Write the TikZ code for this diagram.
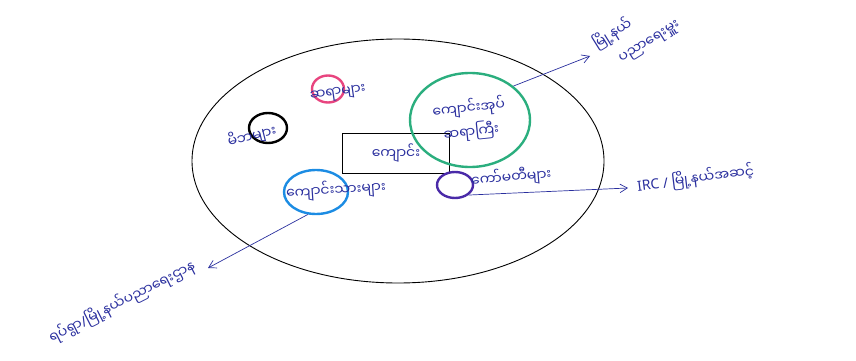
\documentclass[tikz,border=0pt]{standalone}
\usepackage{fontspec}
\setmainfont{Noto Sans}
\newfontfamily\mmfont[Script=Myanmar]{Noto Sans Myanmar UI}
\newfontfamily\latinfont{Noto Sans}
\usepackage{tikz}
\usetikzlibrary{positioning,arrows.meta,shapes.geometric}
\definecolor{inkblue}{HTML}{2A2F9E}
\definecolor{pinkring}{HTML}{E8457F}
\definecolor{greenring}{HTML}{2BAE7E}
\definecolor{bluering}{HTML}{1C8CE3}
\definecolor{purplering}{HTML}{4A2AA8}
\tikzset{
  ring/.style  = {ellipse, draw=#1, line width=2.4pt, inner sep=0pt},
  ink/.style   = {text=inkblue, font=\mmfont\fontsize{14}{22}\selectfont, inner sep=1pt},
  link/.style  = {-{Straight Barb[length=2.6mm,width=3mm]}, draw=inkblue, line width=0.7pt},
}

\begin{document}
\begin{tikzpicture}[x=1pt, y=-1pt]
  \useasboundingbox (0,0) rectangle (856,361);
  % whole school community
  \node[ellipse, draw, line width=0.9pt, minimum width=412pt, minimum height=244pt] (whole) at (398,161) {};

  % centre box
  \node[draw, line width=1pt, minimum width=107pt, minimum height=40pt, ink] (school) at (396,153) {ကျောင်း};

  % groups inside
  \node[ring=pinkring, minimum width=32pt, minimum height=27pt] (pinkc) at (328,89) {};
  \node[ink, rotate=8] (pinklbl) at (338,94) {ဆရာများ};

  \node[ring=black, minimum width=38pt, minimum height=30pt] (blackc) at (268,128) {};
  \node[ink, rotate=14] (blacklbl) at (252,136) {မိဘများ};

  \node[ring=greenring, minimum width=120pt, minimum height=94pt] (greenc) at (470,120) {};
  \node[ink, align=center, rotate=6] (greenlbl) at (470,120) {ကျောင်းအုပ်\\[2pt]ဆရာကြီး};

  \node[ring=bluering, minimum width=64pt, minimum height=44pt] (bluec) at (316,192) {};
  \node[ink, rotate=4] (bluelbl) at (336,190) {ကျောင်းသားများ};

  \node[ring=purplering, minimum width=36pt, minimum height=26pt] (purplec) at (455,185) {};
  \node[ink, anchor=west, rotate=5] (purplelbl) at (470,181) {ကော်မတီများ};

  % outside links
  \coordinate (toptip) at (590,56);
  \coordinate (righttip) at (628,188);
  \coordinate (lefttip) at (208,268);
  \draw[link] (greenc.38) -- (toptip);
  \draw[link] (purplec.south east) -- (righttip);
  \draw[link] (bluec.250) -- (lefttip);

  \node[ink, align=left, rotate=32] (toplbl) at (636,34) {မြို့နယ်\\[3pt]\quad ပညာရေးမှူး};
  \node[ink, anchor=west, rotate=7] (rightlbl) at (636,186) {{\latinfont IRC /} မြို့နယ်အဆင့်};
  \node[ink, rotate=27] (leftlbl) at (122,302) {ရပ်ရွာ{\latinfont /}မြို့နယ်ပညာရေးဌာန};
\end{tikzpicture}
\end{document}
